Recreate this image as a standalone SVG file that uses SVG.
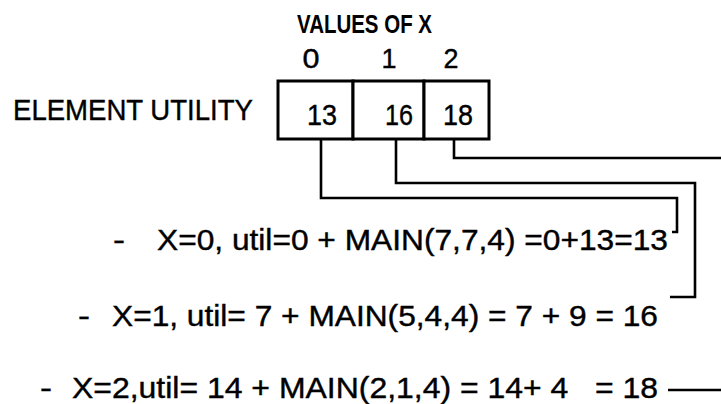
<svg xmlns="http://www.w3.org/2000/svg" width="721" height="404" viewBox="0 0 721 404">
<style>
  text { font-family: "Liberation Sans", Arial, sans-serif; fill: #000; stroke: #000; stroke-width: 0.4; }
  .hdr { font-size: 25px; font-weight: bold; stroke-width: 0; }
  .lbl { font-size: 29px; }
  .num { font-size: 27px; }
  .bnum { font-size: 30px; }
  .cell { fill: #fff; stroke: #000; stroke-width: 3; }
  .conn { fill: none; stroke: #000; stroke-width: 2.6; stroke-linejoin: miter; }
  .eq { font-size: 29px; white-space: pre; }
  .dash { font-size: 29px; }
</style>
<rect width="721" height="404" fill="#fff" stroke="none"/>
<g id="header">
  <text class="hdr" x="297" y="33" textLength="135" lengthAdjust="spacingAndGlyphs">VALUES OF X</text>
  <text class="num" x="311" y="68" text-anchor="middle" textLength="17" lengthAdjust="spacingAndGlyphs">0</text>
  <text class="num" x="389" y="68" text-anchor="middle">1</text>
  <text class="num" x="451" y="68" text-anchor="middle" textLength="15" lengthAdjust="spacingAndGlyphs">2</text>
</g>
<g id="label">
  <text class="lbl" x="13" y="120" textLength="240" lengthAdjust="spacingAndGlyphs">ELEMENT UTILITY</text>
</g>
<g id="array">
  <rect class="cell" x="278" y="81" width="75" height="58"/>
  <rect class="cell" x="353" y="81" width="71" height="58"/>
  <rect class="cell" x="424" y="81" width="65" height="58"/>
  <text class="bnum" x="307" y="125" textLength="30" lengthAdjust="spacingAndGlyphs">13</text>
  <text class="bnum" x="385" y="125" textLength="28" lengthAdjust="spacingAndGlyphs">16</text>
  <text class="bnum" x="443" y="125" textLength="30" lengthAdjust="spacingAndGlyphs">18</text>
</g>
<g id="connectors">
  <polyline class="conn" points="321,140 321,198 677,198 677,232 672,232"/>
  <polyline class="conn" points="396,140 396,183 695,183 695,297 670,297"/>
  <polyline class="conn" points="454,140 454,158 721,158"/>
  <line class="conn" x1="668" y1="390" x2="721" y2="390"/>
</g>
<g id="line0">
  <text class="dash" x="113" y="250" textLength="12" lengthAdjust="spacingAndGlyphs">-</text>
  <text class="eq" x="157" y="250" textLength="511" lengthAdjust="spacingAndGlyphs">X=0, util=0 + MAIN(7,7,4) =0+13=13</text>
</g>
<g id="line1">
  <text class="dash" x="78" y="326" textLength="12" lengthAdjust="spacingAndGlyphs">-</text>
  <text class="eq" x="112" y="326" textLength="546" lengthAdjust="spacingAndGlyphs">X=1, util= 7 + MAIN(5,4,4) = 7 + 9 = 16</text>
</g>
<g id="line2">
  <text class="dash" x="40" y="398" textLength="12" lengthAdjust="spacingAndGlyphs">-</text>
  <text class="eq" x="72" y="398" textLength="586" lengthAdjust="spacingAndGlyphs">X=2,util= 14 + MAIN(2,1,4) = 14+ 4   = 18</text>
</g>
</svg>
